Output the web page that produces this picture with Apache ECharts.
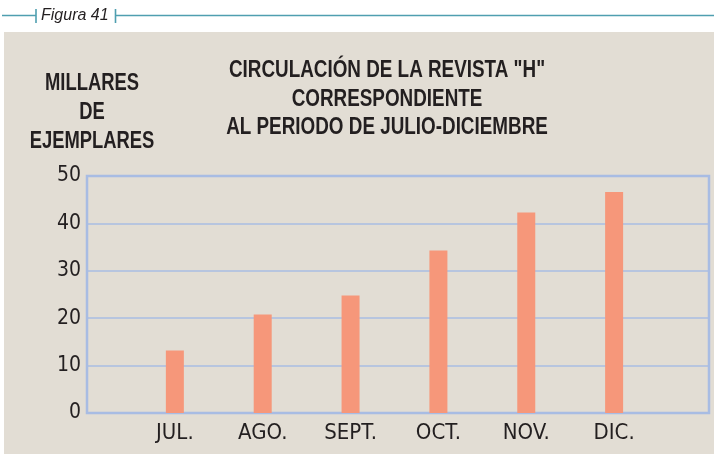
<!DOCTYPE html>
<html>
<head>
<meta charset="utf-8">
<script src="https://cdn.jsdelivr.net/npm/echarts@6/dist/echarts.min.js"></script>
<style>
  html, body { margin: 0; padding: 0; background: #ffffff; }
  #chart { width: 714px; height: 454px; }
</style>
</head>
<body>
<div id="chart"></div>
<script>
// Monthly circulation, thousands of copies
const months = ['JUL.', 'AGO.', 'SEPT.', 'OCT.', 'NOV.', 'DIC.'];
const circulation = [13.2, 20.8, 24.8, 34.3, 42.3, 46.6];
const yTicks = [0, 10, 20, 30, 40, 50];
const titleLines = ['CIRCULACIÓN DE LA REVISTA "H"', 'CORRESPONDIENTE', 'AL PERIODO DE JULIO-DICIEMBRE'];
const unitLines = ['MILLARES', 'DE', 'EJEMPLARES'];
const figureLabel = 'Figura 41';

const CONDENSED = '"DejaVu Sans Condensed", "Liberation Sans", sans-serif';
const HEAD_FONT = 'bold 23px "Liberation Sans", Arial, sans-serif';
const INK = '#231f20';
const GRID_BLUE = '#a8bce3';
const TEAL = '#4f9fb0';

const chart = echarts.init(document.getElementById('chart'), null, { renderer: 'canvas' });

const graphics = [
  // beige panel behind the plot
  { type: 'rect', z: -100, silent: true,
    shape: { x: 4, y: 32, width: 710, height: 422 },
    style: { fill: '#e2ddd4' } },
  // figure caption rule
  { type: 'line', silent: true, shape: { x1: 2, y1: 15.5, x2: 36, y2: 15.5 }, style: { stroke: TEAL, lineWidth: 1.6 } },
  { type: 'line', silent: true, shape: { x1: 36, y1: 9, x2: 36, y2: 23 }, style: { stroke: TEAL, lineWidth: 1.6 } },
  { type: 'line', silent: true, shape: { x1: 115.5, y1: 9, x2: 115.5, y2: 23 }, style: { stroke: TEAL, lineWidth: 1.6 } },
  { type: 'line', silent: true, shape: { x1: 115.5, y1: 15.5, x2: 714, y2: 15.5 }, style: { stroke: TEAL, lineWidth: 1.6 } },
  { type: 'text', silent: true,
    style: { text: figureLabel, x: 41, y: 16, fill: INK,
             font: 'italic 16px "Liberation Sans", sans-serif',
             align: 'left', verticalAlign: 'middle' } }
];

// condensed bold headings: horizontal squeeze around each line's centre
titleLines.forEach((t, i) => {
  graphics.push({ type: 'text', silent: true, x: 387, y: 71 + i * 28.5, scaleX: 0.82,
    style: { text: t, x: 0, y: 0, fill: INK, font: HEAD_FONT, align: 'center', verticalAlign: 'middle' } });
});
unitLines.forEach((t, i) => {
  graphics.push({ type: 'text', silent: true, x: 92, y: 84 + i * 29, scaleX: 0.8,
    style: { text: t, x: 0, y: 0, fill: INK, font: HEAD_FONT, align: 'center', verticalAlign: 'middle' } });
});

const option = {
  backgroundColor: '#ffffff',
  animation: false,
  graphic: { elements: graphics },
  grid: {
    left: 87, right: 5, top: 176, bottom: 41,
    show: true, borderColor: GRID_BLUE, borderWidth: 2.5,
    backgroundColor: 'transparent', containLabel: false
  },
  xAxis: {
    type: 'value', min: 0, max: 7.08, interval: 1,
    axisLine: { show: false }, axisTick: { show: false }, splitLine: { show: false },
    axisLabel: {
      margin: 9, color: INK, fontSize: 22, fontFamily: CONDENSED,
      showMaxLabel: false, showMinLabel: false,
      formatter: v => (Number.isInteger(v) && v >= 1 && v <= months.length) ? months[v - 1] : ''
    }
  },
  yAxis: {
    type: 'value', min: yTicks[0], max: yTicks[yTicks.length - 1], interval: yTicks[1] - yTicks[0],
    axisLine: { show: false }, axisTick: { show: false },
    splitLine: { show: true, lineStyle: { color: GRID_BLUE, width: 1.5 } },
    axisLabel: { margin: 6, color: INK, fontSize: 21, fontFamily: CONDENSED }
  },
  series: [{
    type: 'bar',
    data: circulation.map((v, i) => [i + 1, v]),
    barWidth: 18,
    itemStyle: { color: '#f6977a' },
    silent: true
  }]
};

chart.setOption(option);
</script>
</body>
</html>
